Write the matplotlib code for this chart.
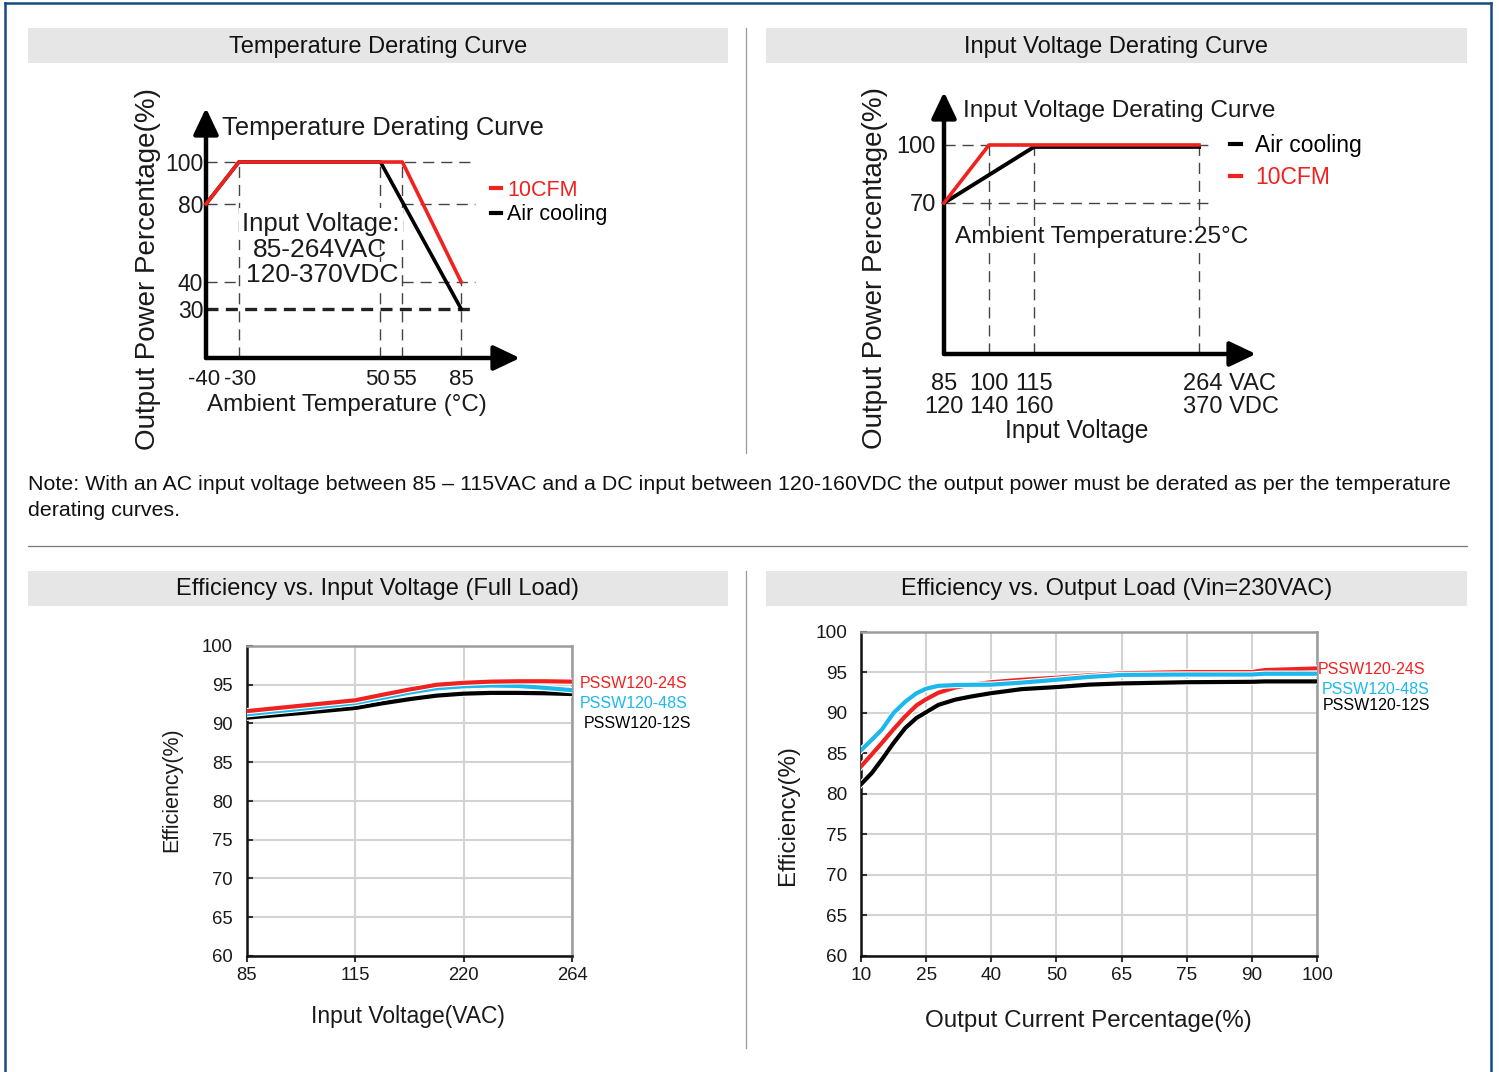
import numpy as np
import matplotlib
matplotlib.use("Agg")
import matplotlib.pyplot as plt
import matplotlib.transforms as mtransforms
from matplotlib import patheffects as pe
from matplotlib.lines import Line2D
from matplotlib.patches import Rectangle

plt.rcParams['font.family'] = ['Liberation Sans', 'DejaVu Sans']

# ---------------- data ----------------
# Temperature derating curve
temp_10cfm_x = [-40, -30, 55, 85]
temp_10cfm_y = [80, 100, 100, 40]
temp_air_x = [-40, -30, 50, 85]
temp_air_y = [80, 100, 100, 30]
temp_xticks = [-40, -30, 50, 55, 85]
temp_yticks = [30, 40, 80, 100]

# Input voltage derating curve
vin_air_x = [85, 115, 264]
vin_air_y = [70, 99, 99]
vin_10cfm_x = [85, 100, 264]
vin_10cfm_y = [70, 100, 100]
vin_xticks = [85, 100, 115, 264]
vin_xticklabels = ['85\n120', '100\n140', '115\n160', '264 VAC\n370 VDC']
vin_yticks = [70, 100]

# Efficiency vs input voltage (full load)
eff_vin_x = [85, 100, 115, 141, 168, 194, 220, 231, 242, 253, 264]
eff_vin_24s = [91.6, 92.3, 93.0, 93.7, 94.4, 95.0, 95.25, 95.4, 95.45, 95.45, 95.4]
eff_vin_48s = [91.2, 91.9, 92.65, 93.3, 94.0, 94.55, 94.8, 94.9, 94.85, 94.6, 94.3]
eff_vin_12s = [90.75, 91.35, 92.0, 92.6, 93.15, 93.6, 93.85, 93.95, 93.95, 93.9, 93.8]
eff_vin_ticks = [85, 115, 220, 264]

# Efficiency vs output load (Vin = 230VAC)
eff_load_x = [10, 12.5, 14.8, 17.5, 20.2, 22.8, 25, 27.8, 31.7, 35.5, 40, 44.7, 50, 57.4, 65, 75, 90, 92, 100]
eff_load_24s = [83.4, 84.9, 86.3, 88.0, 89.6, 90.95, 91.7, 92.5, 93.15, 93.5, 93.8, 94.1, 94.35, 94.65, 94.9, 95.05, 95.05, 95.3, 95.5]
eff_load_48s = [85.4, 86.7, 87.95, 90.0, 91.4, 92.45, 93.0, 93.35, 93.45, 93.48, 93.5, 93.75, 94.1, 94.45, 94.7, 94.75, 94.75, 94.85, 94.85]
eff_load_12s = [81.2, 82.6, 84.25, 86.3, 88.15, 89.4, 90.1, 91.0, 91.65, 92.05, 92.45, 92.95, 93.2, 93.5, 93.65, 93.8, 93.85, 93.9, 93.9]
eff_load_ticks = [10, 25, 40, 50, 65, 75, 90, 100]

eff_yticks = [60, 65, 70, 75, 80, 85, 90, 95, 100]
series_names = ['PSSW120-24S', 'PSSW120-48S', 'PSSW120-12S']

# ---------------- style ----------------
RED = '#f0221f'
BLUE = '#1cb8ec'
BLACK = '#000000'
HEAD_BG = '#e6e6e6'
BORDER = '#154b82'
TXT = '#1a1a1a'

W, H = 1499, 1072
fig = plt.figure(figsize=(W / 100, H / 100), dpi=100)


def box(l, t, r, b):
    return [l / W, 1 - b / H, (r - l) / W, (b - t) / H]


def piecewise(vals, pos):
    vals = np.asarray(vals, float)
    pos = np.asarray(pos, float)
    return (lambda v: np.interp(v, vals, pos), lambda p: np.interp(p, pos, vals))


def shift(lbl, dx_px, dy_px=0):
    lbl.set_transform(lbl.get_transform() +
                      mtransforms.ScaledTranslation(dx_px / 100, dy_px / 100, fig.dpi_scale_trans))


# ---------------- overlay (page decorations) ----------------
ov = fig.add_axes([0, 0, 1, 1], zorder=0)
ov.set_xlim(0, W)
ov.set_ylim(H, 0)
ov.axis('off')

ov.plot([5, 5], [3, H], color=BORDER, lw=1.8)
ov.plot([5, 1491], [3, 3], color=BORDER, lw=1.8)
ov.plot([1491, 1491], [3, H], color=BORDER, lw=1.8)

for (l, t, r, b, title) in [(28, 28, 728, 63, 'Temperature Derating Curve'),
                             (766, 28, 1467, 63, 'Input Voltage Derating Curve'),
                             (28, 571, 728, 606, 'Efficiency vs. Input Voltage (Full Load)'),
                             (766, 571, 1467, 606, 'Efficiency vs. Output Load (Vin=230VAC)')]:
    ov.add_patch(Rectangle((l, t), r - l, b - t, facecolor=HEAD_BG, edgecolor='none'))
    ov.text((l + r) / 2, (t + b) / 2 + 1, title, ha='center', va='center', fontsize=17, color='#111')

ov.plot([746, 746], [28, 453], color='#9a9a9a', lw=0.9)
ov.plot([746, 746], [571, 1048], color='#9a9a9a', lw=0.9)
ov.plot([28, 1467], [546, 546], color='#7a7a7a', lw=0.9)

ov.text(28, 485, 'Note: With an AC input voltage between 85 \u2013 115VAC and a DC input between 120-160VDC '
        'the output power must be derated as per the temperature', ha='left', va='center',
        fontsize=15.4, color='#111')
ov.text(28, 510, 'derating curves.', ha='left', va='center', fontsize=15.4, color='#111')


# ---------------- helper for schematic axes ----------------
def schematic_axes(rect):
    ax = fig.add_axes(rect, zorder=2)
    ax.patch.set_alpha(0)
    for s in ax.spines.values():
        s.set_visible(False)
    arrow = dict(arrowstyle='-|>,head_length=0.8,head_width=0.38', lw=3.2, color='k',
                 mutation_scale=20, shrinkA=0, shrinkB=0)
    ax.annotate('', xy=(0, 1), xytext=(0, 0), xycoords='axes fraction', arrowprops=arrow)
    ax.annotate('', xy=(1, 0), xytext=(0, 0), xycoords='axes fraction', arrowprops=arrow)
    ax.tick_params(length=0, labelsize=16.5, colors=TXT)
    return ax


thin_dash = dict(color='#444', lw=1.0, linestyle=(0, (8, 5)), clip_on=False, zorder=1)
white_box = dict(facecolor='white', edgecolor='none', pad=2.5)

# ---------------- Temperature derating ----------------
ax1 = schematic_axes(box(206, 108, 520, 358))
ax1.set_xscale('function', functions=piecewise([-40, -30, 50, 55, 85, 115], [0, 33, 175, 197, 256, 315]))
ax1.set_yscale('function', functions=piecewise([6.7, 30, 40, 80, 100, 125.7], [0, 49, 76, 154, 196, 250]))
ax1.set_xlim(-40, 115)
ax1.set_ylim(6.7, 125.7)
y0 = ax1.get_ylim()[0]
ax1.hlines(100, -40, 92, **thin_dash)
ax1.hlines([80, 40], -40, -30, **thin_dash)
ax1.hlines([80, 40], 55, 92, **thin_dash)
ax1.hlines(30, -40, 92, color='#222', lw=2.4, linestyle=(0, (3.6, 2.2)), clip_on=False, zorder=1)
ax1.vlines([-30, 50, 55], y0, 100, **thin_dash)
ax1.vlines(85, y0, 40, **thin_dash)
ax1.plot(temp_air_x, temp_air_y, color=BLACK, lw=2.6, clip_on=False, zorder=3)
ax1.plot(temp_10cfm_x, temp_10cfm_y, color=RED, lw=2.6, clip_on=False, zorder=4)
ax1.set_xticks(temp_xticks, [str(v) for v in temp_xticks])
ax1.set_yticks(temp_yticks, [str(v) for v in temp_yticks])
ax1.tick_params(axis='x', pad=8, labelsize=16)
ax1.tick_params(axis='y', pad=2, labelsize=16.5)
xl = ax1.get_xticklabels()
shift(xl[0], -2)
shift(xl[1], 1)
shift(xl[2], -3)
shift(xl[3], 2)
h1 = [Line2D([], [], color=RED, lw=3), Line2D([], [], color=BLACK, lw=3)]
ax1.legend(h1, ['10CFM', 'Air cooling'], loc='upper left', bbox_to_anchor=(491, 180),
           bbox_transform=ov.transData, frameon=False, fontsize=15.5, handlelength=0.45,
           handletextpad=0.3, labelspacing=0.15, borderpad=0, borderaxespad=0,
           labelcolor=[RED, BLACK])

ax1.text(321, 224, 'Input Voltage:', ha='center', va='center', fontsize=18.5, color=TXT,
         transform=ov.transData, bbox=white_box, zorder=2)
ax1.text(320, 250, '85-264VAC', ha='center', va='center', fontsize=19, color=TXT,
         transform=ov.transData, zorder=2)
ax1.text(322, 275, '120-370VDC', ha='center', va='center', fontsize=19, color=TXT,
         transform=ov.transData, bbox=dict(facecolor='white', edgecolor='none', pad=1.0), zorder=2)

ov.text(148, 269, 'Output Power Percentage(%)', rotation=90, ha='center', va='center', fontsize=20, color=TXT)
ov.text(222, 128, 'Temperature Derating Curve', ha='left', va='center', fontsize=18.3, color=TXT)
ov.text(207, 405, 'Ambient Temperature (\u00b0C)', ha='left', va='center', fontsize=17.4, color=TXT)

# ---------------- Input voltage derating ----------------
ax2 = schematic_axes(box(944, 92, 1256, 354))
ax2.set_xscale('function', functions=piecewise([85, 100, 115, 264, 316], [0, 45, 90, 255, 312]))
ax2.set_xlim(85, 316)
ax2.set_ylim(-8.1, 127.4)
y0 = ax2.get_ylim()[0]
ax2.hlines([100, 70], 85, 274, **thin_dash)
ax2.vlines([100, 115, 264], y0, 100, **thin_dash)
ax2.plot(vin_air_x, vin_air_y, color=BLACK, lw=2.8, clip_on=False, zorder=3)
ax2.plot(vin_10cfm_x, vin_10cfm_y, color=RED, lw=2.6, clip_on=False, zorder=4)
ax2.set_xticks(vin_xticks, vin_xticklabels)
ax2.set_yticks(vin_yticks, [str(v) for v in vin_yticks])
ax2.tick_params(axis='x', pad=14, labelsize=17)
ax2.tick_params(axis='y', pad=6, labelsize=17)
for lbl in ax2.get_xticklabels():
    lbl.set_linespacing(1.05)
last = ax2.get_xticklabels()[-1]
last.set_horizontalalignment('left')
shift(last, -16)
h2 = [Line2D([], [], color=BLACK, lw=3), Line2D([], [], color=RED, lw=3)]
ax2.legend(h2, ['Air cooling', '10CFM'], loc='upper left', bbox_to_anchor=(1230, 134),
           bbox_transform=ov.transData, frameon=False, fontsize=16.5, handlelength=0.5,
           handletextpad=0.6, labelspacing=0.4, borderpad=0, borderaxespad=0,
           labelcolor=[BLACK, RED])
ax2.text(955, 237, 'Ambient Temperature:25\u00b0C', ha='left', va='center', fontsize=17.6, color=TXT,
         transform=ov.transData, bbox=dict(facecolor='white', edgecolor='none', pad=0.3), zorder=2)

ov.text(875, 268, 'Output Power Percentage(%)', rotation=90, ha='center', va='center', fontsize=20, color=TXT)
ov.text(963, 111, 'Input Voltage Derating Curve', ha='left', va='center', fontsize=17.6, color=TXT)
ov.text(1077, 431, 'Input Voltage', ha='center', va='center', fontsize=17.7, color=TXT)


# ---------------- efficiency charts ----------------
def eff_axes(rect, xticks, ticksize):
    ax = fig.add_axes(rect, zorder=2)
    ax.set_facecolor('white')
    ax.set_xscale('function', functions=piecewise(xticks, np.arange(len(xticks))))
    ax.set_xlim(xticks[0], xticks[-1])
    ax.set_ylim(60, 100)
    ax.set_xticks(xticks, [str(v) for v in xticks])
    ax.set_yticks(eff_yticks, [str(v) for v in eff_yticks])
    ax.grid(True, color='#d3d3d3', lw=1.5)
    ax.set_axisbelow(True)
    for s in ['left', 'bottom']:
        ax.spines[s].set_color('#111')
        ax.spines[s].set_linewidth(1.8)
    for s in ['top', 'right']:
        ax.spines[s].set_color('#9c9c9c')
        ax.spines[s].set_linewidth(1.8)
    ax.tick_params(axis='x', direction='out', length=4, width=1.5, color='#333', pad=4,
                   labelsize=ticksize, labelcolor=TXT)
    ax.tick_params(axis='y', direction='in', length=4, width=1.5, color='#333', pad=10,
                   labelsize=ticksize, labelcolor=TXT)
    return ax


halo = [pe.Stroke(linewidth=4.6, foreground='white'), pe.Normal()]

ax3 = eff_axes(box(247, 646, 572, 956), eff_vin_ticks, 13.3)
ax3.plot(eff_vin_x, eff_vin_12s, color=BLACK, lw=3, path_effects=halo, zorder=3)
ax3.plot(eff_vin_x, eff_vin_48s, color=BLUE, lw=3, path_effects=halo, zorder=4)
ax3.plot(eff_vin_x, eff_vin_24s, color=RED, lw=3, path_effects=halo, zorder=5)
ov.text(580, 683, series_names[0], color=RED, fontsize=11.5, ha='left', va='center')
ov.text(580, 704, series_names[1], color=BLUE, fontsize=11.5, ha='left', va='center')
ov.text(584, 724, series_names[2], color=BLACK, fontsize=11.5, ha='left', va='center')
ov.text(172, 790, 'Efficiency(%)', rotation=90, ha='center', va='center', fontsize=15.5, color=TXT)
ov.text(408, 1016, 'Input Voltage(VAC)', ha='center', va='center', fontsize=16.5, color=TXT)

ax4 = eff_axes(box(861, 632, 1317, 956), eff_load_ticks, 13.7)
ax4.plot(eff_load_x, eff_load_12s, color=BLACK, lw=3, path_effects=halo, zorder=3)
ax4.plot(eff_load_x, eff_load_24s, color=RED, lw=3, path_effects=halo, zorder=4)
ax4.plot(eff_load_x, eff_load_48s, color=BLUE, lw=3, path_effects=halo, zorder=5)
ov.text(1318, 670, series_names[0], color=RED, fontsize=11.5, ha='left', va='center')
ov.text(1322, 689, series_names[1], color=BLUE, fontsize=11.5, ha='left', va='center')
ov.text(1323, 706, series_names[2], color=BLACK, fontsize=11.5, ha='left', va='center')
ov.text(788, 815, 'Efficiency(%)', rotation=90, ha='center', va='center', fontsize=17.3, color=TXT)
ov.text(1088, 1021, 'Output Current Percentage(%)', ha='center', va='center', fontsize=17.4, color=TXT)

fig.savefig('out.png', dpi=100)
